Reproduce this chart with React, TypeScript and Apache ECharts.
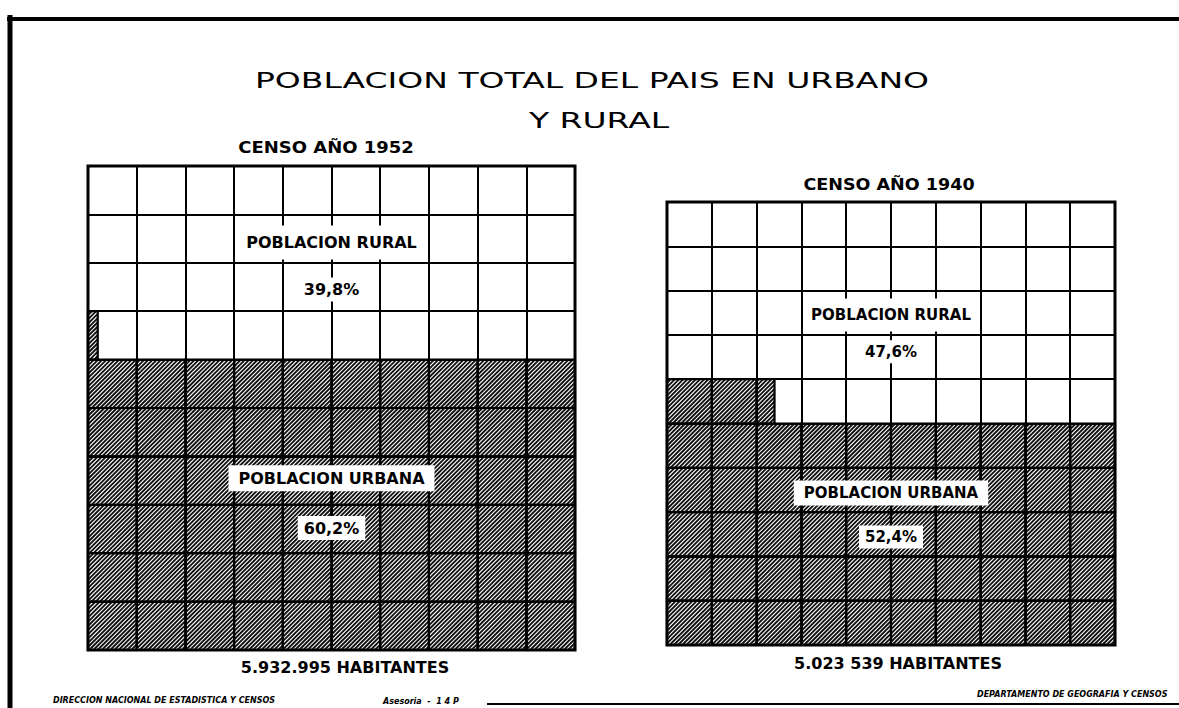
import React, { useEffect, useRef } from 'react';
import * as echarts from 'echarts';

// ---- data ----
const censusYears = ['1952', '1940'];
const urbanPct = [60.2, 52.4];
const ruralPct = [39.8, 47.6];
const inhabitants = ['5.932.995', '5.023 539'];
const titleLines = ['POBLACION TOTAL DEL PAIS EN URBANO', 'Y RURAL'];
const ruralLabel = 'POBLACION RURAL';
const urbanLabel = 'POBLACION URBANA';
const footerLeft = 'DIRECCION NACIONAL DE ESTADISTICA Y CENSOS';
const footerMid = 'Asesoria  -  1 4 P';
const footerRight = 'DEPARTAMENTO DE GEOGRAFIA Y CENSOS';
const side = 10;

const fmtPct = (v: number) => v.toFixed(1).replace('.', ',') + '%';

// waffle cells (col, row from bottom, filled fraction) for the urban share
function urbanCells(pct: number) {
  const out: number[][] = [];
  for (let r = 0; r < side; r++) {
    for (let c = 0; c < side; c++) {
      const frac = Math.max(0, Math.min(1, pct - (r * side + c)));
      if (frac > 0) out.push([c, r, frac]);
    }
  }
  return out;
}

const FONT = '"DejaVu Sans", Verdana, sans-serif';

const renderCell = (params: any, api: any) => {
  const c = api.value(0);
  const r = api.value(1);
  const frac = api.value(2);
  const p0 = api.coord([c, r]);
  const p1 = api.coord([c + 1, r + 1]);
  const x0 = p0[0];
  const y1 = p0[1];
  const y0 = p1[1];
  const x1 = x0 + (p1[0] - x0) * frac;
  const step = 4.2;
  const children: any[] = [];
  const kStart = x0 + y0;
  const kEnd = x1 + y1;
  for (let k = Math.ceil(kStart / step) * step; k <= kEnd; k += step) {
    const ax = Math.max(x0, k - y1);
    const ay = k - ax;
    const bx = Math.min(x1, k - y0);
    const by = k - bx;
    if (bx - ax < 0.3) continue;
    children.push({
      type: 'line',
      silent: true,
      shape: { x1: ax, y1: ay, x2: bx, y2: by },
      style: { stroke: '#111', lineWidth: 1.9 },
    });
  }
  children.push({
    type: 'rect',
    silent: true,
    shape: { x: x0, y: y0, width: x1 - x0, height: y1 - y0 },
    style: { fill: 'none', stroke: '#000', lineWidth: 2.2 },
  });
  return { type: 'group', children };
};

export default function App() {
  const ref = useRef<HTMLDivElement>(null);

  useEffect(() => {
    if (!ref.current) return;
    const chart = echarts.init(ref.current, undefined, { renderer: 'svg' });

    const grids = [
      { left: 88, top: 166, width: 487, height: 484 },
      { left: 667, top: 202, width: 448, height: 443 },
    ];
    const labelFont = [16, 15];
    const labelY = [
      [8.42, 7.45, 3.55, 2.52],
      [7.45, 6.62, 3.43, 2.44],
    ];

    const axisBase = {
      type: 'value',
      min: 0,
      max: side,
      interval: 1,
      axisLine: { show: false },
      axisTick: { show: false },
      axisLabel: { show: false },
      splitLine: { show: true, lineStyle: { color: '#000', width: 2 } },
    };

    const series: any[] = [];
    grids.forEach((_, i) => {
      series.push({
        type: 'custom',
        xAxisIndex: i,
        yAxisIndex: i,
        renderItem: renderCell,
        data: urbanCells(urbanPct[i]),
        silent: true,
      });
      const fs = labelFont[i];
      const mk = (y: number, text: string, pad: number[]) => ({
        value: [5, y],
        name: text,
        label: { padding: pad },
      });
      series.push({
        type: 'scatter',
        xAxisIndex: i,
        yAxisIndex: i,
        symbolSize: 1,
        itemStyle: { color: 'rgba(0,0,0,0)', opacity: 1 },
        silent: true,
        z: 5,
        label: {
          show: true,
          position: 'inside',
          formatter: '{b}',
          color: '#000',
          opacity: 1,
          fontFamily: FONT,
          fontWeight: 'bold',
          fontSize: fs,
          backgroundColor: '#fff',
        },
        data: [
          mk(labelY[i][0], ruralLabel, [9, 7]),
          mk(labelY[i][1], fmtPct(ruralPct[i]), [4, 5]),
          mk(labelY[i][2], urbanLabel, [5, 10]),
          mk(labelY[i][3], fmtPct(urbanPct[i]), [4, 6]),
        ],
      });
    });

    const txt = (x: number, y: number, text: string, size: number, opts: any = {}) => ({
      type: 'text',
      x,
      y,
      scaleX: opts.scaleX || 1,
      silent: true,
      style: {
        text,
        fill: '#000',
        fontFamily: FONT,
        fontSize: size,
        fontWeight: opts.weight || 'bold',
        fontStyle: opts.italic ? 'italic' : 'normal',
        align: opts.align || 'center',
        verticalAlign: 'middle',
        textAlign: opts.align || 'center',
        textVerticalAlign: 'middle',
      },
    });

    const graphic: any[] = [
      // frame
      { type: 'line', silent: true, shape: { x1: 7, y1: 19, x2: 1179, y2: 19 }, style: { stroke: '#000', lineWidth: 4 } },
      { type: 'line', silent: true, shape: { x1: 10, y1: 15, x2: 10, y2: 708 }, style: { stroke: '#000', lineWidth: 5 } },
      { type: 'line', silent: true, shape: { x1: 487, y1: 704, x2: 1179, y2: 704 }, style: { stroke: '#000', lineWidth: 2 } },
      // titles
      txt(592, 81, titleLines[0], 22, { weight: 'normal', scaleX: 1.5 }),
      txt(599, 121, titleLines[1], 22, { weight: 'normal', scaleX: 1.5 }),
      txt(326, 148, 'CENSO AÑO ' + censusYears[0], 15, { scaleX: 1.2 }),
      txt(889, 185, 'CENSO AÑO ' + censusYears[1], 15, { scaleX: 1.17 }),
      txt(345, 667, inhabitants[0] + ' HABITANTES', 16),
      txt(898, 663, inhabitants[1] + ' HABITANTES', 16),
      // footers
      txt(53, 700, footerLeft, 8, { italic: true, align: 'left' }),
      txt(383, 701, footerMid, 8, { italic: true, align: 'left' }),
      txt(977, 694, footerRight, 8, { italic: true, align: 'left' }),
    ];

    chart.setOption({
      animation: false,
      backgroundColor: '#fff',
      grid: grids.map((g) => ({ ...g, show: true, borderColor: '#000', borderWidth: 3, backgroundColor: 'transparent' })),
      xAxis: grids.map((_, i) => ({ ...axisBase, gridIndex: i })),
      yAxis: grids.map((_, i) => ({ ...axisBase, gridIndex: i })),
      series,
      graphic,
    });

    return () => chart.dispose();
  }, []);

  return (
    <div
      ref={ref}
      style={{ position: 'fixed', left: 0, top: 0, width: 1179, height: 708, background: '#fff' }}
    />
  );
}
